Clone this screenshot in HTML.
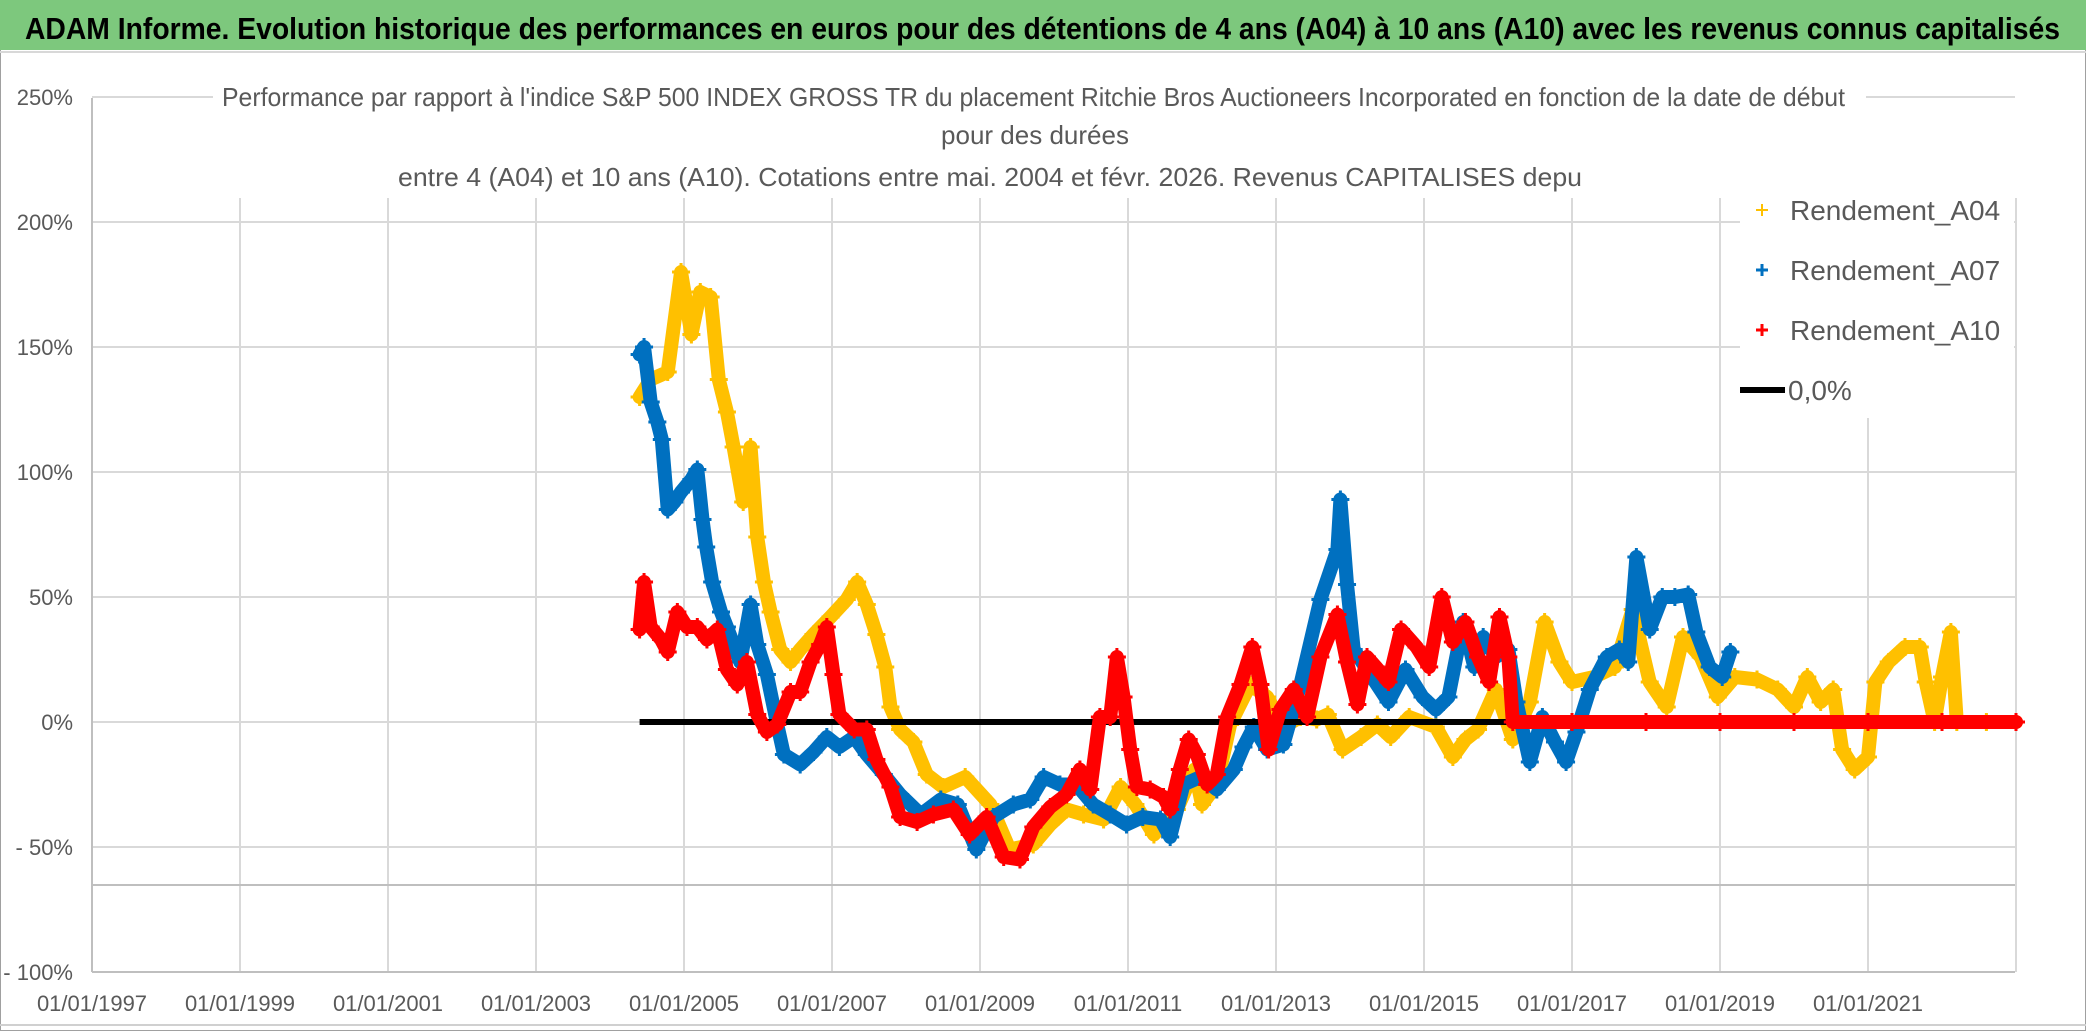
<!DOCTYPE html>
<html><head><meta charset="utf-8"><style>
html,body{margin:0;padding:0;background:#fff;}
svg{display:block;font-family:"Liberation Sans Narrow","Liberation Sans",sans-serif;}
</style></head><body>
<svg id="chart" width="2086" height="1031" viewBox="0 0 2086 1031" xmlns="http://www.w3.org/2000/svg">
<rect x="0" y="0" width="2086" height="1031" fill="#fff"/>
<rect x="0.5" y="0.5" width="2085" height="1030" fill="none" stroke="#a0a0a0" stroke-width="1"/>
<g>
<rect x="0" y="0" width="2086" height="50" fill="#7dc87d"/>
<line x1="0" y1="52" x2="2086" y2="52" stroke="#d8d8d8" stroke-width="2"/>
<text x="25" y="39" font-size="31" font-weight="bold" fill="#000" textLength="2035" lengthAdjust="spacingAndGlyphs">ADAM Informe. Evolution historique des performances en euros pour des détentions de 4 ans (A04) à 10 ans (A10) avec les revenus connus capitalisés</text>
</g>
<g id="grid"></g>
<rect x="213" y="75" width="1653" height="120" fill="#fff"/>
<g fill="#595959" font-size="26">
<text x="222" y="106" textLength="1623" lengthAdjust="spacingAndGlyphs">Performance par rapport à l'indice S&amp;P 500 INDEX GROSS TR  du placement Ritchie Bros Auctioneers Incorporated en fonction de la date de début</text>
<text x="1035" y="144" text-anchor="middle">pour des durées</text>
<text x="398" y="186" textLength="1184" lengthAdjust="spacingAndGlyphs">entre 4 (A04) et 10 ans (A10). Cotations entre mai. 2004 et févr. 2026. Revenus CAPITALISES depu</text>
</g>
<g id="axes"></g>
<g id="series"></g>
<g>
<rect x="1740" y="188" width="274" height="230" fill="#fff"/>
<g>
<path d="M1756 210h12M1762 204v12" stroke="#ffc000" stroke-width="2"/>
<text x="1790" y="220" font-size="28" fill="#595959">Rendement_A04</text></g>
<g>
<path d="M1756 270h12M1762 264v12" stroke="#0070c0" stroke-width="3"/>
<text x="1790" y="280" font-size="28" fill="#595959">Rendement_A07</text></g>
<g>
<path d="M1756 330h12M1762 324v12" stroke="#ff0000" stroke-width="3"/>
<text x="1790" y="340" font-size="28" fill="#595959">Rendement_A10</text></g>
<g>
<line x1="1740" y1="390" x2="1785" y2="390" stroke="#000" stroke-width="6"/>
<text x="1788" y="400" font-size="28" fill="#595959">0,0%</text></g>
</g>
</svg>
<script>
const yTicks = [250,200,150,100,50,0,-50,-100];
const yTickLabels = ["250%","200%","150%","100%","50%","0%","- 50%","- 100%"];
const xTicks = [1997,1999,2001,2003,2005,2007,2009,2011,2013,2015,2017,2019,2021,2023];
const xTickLabels = ["01/01/1997","01/01/1999","01/01/2001","01/01/2003","01/01/2005","01/01/2007","01/01/2009","01/01/2011","01/01/2013","01/01/2015","01/01/2017","01/01/2019","01/01/2021",""];
const a04Years = [2004.4,2004.55,2004.78,2004.96,2005.1,2005.22,2005.36,2005.47,2005.58,2005.67,2005.8,2005.9,2005.99,2006.08,2006.17,2006.3,2006.44,2006.57,2006.75,2006.98,2007.2,2007.34,2007.47,2007.6,2007.72,2007.79,2007.92,2008.1,2008.28,2008.5,2008.8,2009.14,2009.4,2009.72,2009.95,2010.17,2010.4,2010.67,2010.9,2011.1,2011.35,2011.66,2011.9,2012.0,2012.2,2012.38,2012.65,2012.88,2013.1,2013.33,2013.55,2013.7,2013.9,2014.15,2014.37,2014.55,2014.8,2015.16,2015.39,2015.56,2015.73,2015.97,2016.2,2016.43,2016.63,2016.83,2017.0,2017.3,2017.58,2017.82,2018.05,2018.28,2018.5,2018.74,2018.97,2019.2,2019.5,2019.78,2020.0,2020.18,2020.36,2020.53,2020.65,2020.82,2021.0,2021.1,2021.28,2021.5,2021.7,2021.78,2021.9,2022.0,2022.12,2022.2,2022.6,2023.0];
const a04Values = [130,137,140,180,155,172,170,137,124,110,88,110,74,56,44,29,24,29,35,42,49,56,47,35,22,6,-3,-8,-21,-26,-22,-33,-51,-49,-41,-35,-37,-39,-26,-33,-45,-35,-19,-33,-25,-1,15,10,-2,2,1,3,-11,-6,-1,-6,2,-2,-14,-7,-3,13,-7,8,40,24,16,18,22,45,16,6,34,26,10,18,17,13,6,18,8,13,-11,-19,-14,16,24,30,30,16,0,18,36,0,0,0];
const a07Years = [2004.4,2004.46,2004.55,2004.64,2004.7,2004.78,2004.87,2004.96,2005.1,2005.18,2005.25,2005.3,2005.38,2005.5,2005.58,2005.76,2005.9,2005.99,2006.12,2006.26,2006.35,2006.57,2006.75,2006.93,2007.1,2007.3,2007.47,2007.7,2007.92,2008.2,2008.47,2008.7,2008.95,2009.18,2009.45,2009.68,2009.86,2010.08,2010.3,2010.53,2010.76,2010.98,2011.2,2011.44,2011.57,2011.75,2011.98,2012.2,2012.43,2012.56,2012.7,2012.88,2013.1,2013.33,2013.6,2013.83,2013.87,2013.96,2014.05,2014.23,2014.52,2014.75,2014.98,2015.16,2015.33,2015.53,2015.68,2015.8,2015.97,2016.14,2016.25,2016.43,2016.6,2016.77,2016.92,2017.06,2017.24,2017.47,2017.64,2017.76,2017.87,2018.05,2018.22,2018.39,2018.57,2018.68,2018.86,2019.03,2019.14];
const a07Values = [147,150,128,120,113,85,88,92,97,101,81,70,56,44,38,24,47,31,19,-1,-13,-17,-12,-6,-10,-6,-13,-21,-29,-37,-31,-33,-51,-38,-33,-31,-22,-25,-25,-33,-37,-41,-38,-39,-46,-25,-22,-27,-19,-10,-2,-11,-9,15,49,69,89,55,29,21,8,21,10,5,10,40,22,34,26,29,8,-16,2,-8,-16,-4,13,26,29,24,66,37,50,50,51,36,22,18,28];
const a10Years = [2004.4,2004.46,2004.55,2004.69,2004.78,2004.91,2005.04,2005.18,2005.31,2005.45,2005.58,2005.72,2005.85,2005.99,2006.12,2006.26,2006.44,2006.57,2006.71,2006.84,2006.93,2007.02,2007.1,2007.3,2007.47,2007.6,2007.79,2007.92,2008.15,2008.37,2008.64,2008.86,2009.09,2009.32,2009.54,2009.72,2009.95,2010.17,2010.35,2010.49,2010.62,2010.76,2010.85,2010.94,2011.03,2011.12,2011.3,2011.48,2011.57,2011.7,2011.82,2011.93,2012.07,2012.2,2012.34,2012.52,2012.68,2012.79,2012.9,2013.06,2013.24,2013.42,2013.6,2013.83,2013.96,2014.1,2014.23,2014.35,2014.52,2014.69,2014.9,2015.07,2015.24,2015.39,2015.56,2015.73,2015.88,2016.02,2016.14,2016.2,2017.0,2018.0,2019.0,2020.0,2021.0,2022.0,2023.0];
const a10Values = [37,56,38,33,28,44,38,38,33,37,21,15,24,3,-4,-1,12,12,24,31,38,19,3,-3,-3,-15,-26,-38,-40,-37,-35,-45,-38,-54,-55,-42,-34,-29,-19,-27,2,2,26,10,-11,-26,-27,-30,-35,-19,-7,-13,-25,-21,2,15,30,15,-11,5,13,2,26,43,24,7,26,22,16,37,30,22,50,32,40,26,16,42,26,0,0,0,0,0,0,0,0];
const zeroStart = 2004.4, zeroEnd = 2016.2;

const NS = "http://www.w3.org/2000/svg";
const X = yr => 92 + 74 * (yr - 1997);
const Y = v => 722 - 2.5 * v;
function mk(tag, attrs, parent){const e=document.createElementNS(NS,tag);for(const k in attrs)e.setAttribute(k,attrs[k]);parent.appendChild(e);return e;}
const grid=document.getElementById('grid'), axes=document.getElementById('axes'), series=document.getElementById('series');
yTicks.forEach((t,i)=>{
  const l=mk('line',{x1:92,x2:2015,y1:Y(t),y2:Y(t),stroke:'#d9d9d9','stroke-width':2},grid);
  
  
  const tx=mk('text',{x:73,y:Y(t)+8,'text-anchor':'end','font-size':22,fill:'#595959'},axes);
  tx.textContent=yTickLabels[i];
  
  
});
xTicks.forEach((t,i)=>{
  if(i>0){const l=mk('line',{x1:X(t),x2:X(t),y1:198,y2:972,stroke:'#d9d9d9','stroke-width':2},grid);
  
  }
  const tx=mk('text',{x:X(t),y:1011,'text-anchor':'middle','font-size':22,fill:'#595959'},axes);
  tx.textContent=xTickLabels[i];
  
  
});
const extra=mk('line',{x1:92,x2:2015,y1:885,y2:885,stroke:'#bfbfbf','stroke-width':2},grid);


const yax=mk('line',{x1:92,x2:92,y1:98,y2:972,stroke:'#bfbfbf','stroke-width':2},axes);


const xax=mk('line',{x1:92,x2:2015,y1:972,y2:972,stroke:'#bfbfbf','stroke-width':2},axes);


mk('line',{x1:0,x2:2086,y1:1025,y2:1025,stroke:'#d0d0d0','stroke-width':2},axes);

function drawSeries(years, vals, color, name){
  const g=mk('g',{},series);
  
  
  const pts=years.map((y,i)=>X(y)+','+Y(vals[i])).join(' ');
  const pl=mk('polyline',{points:pts,fill:'none',stroke:color,'stroke-width':14,'stroke-linejoin':'round','stroke-linecap':'round'},g);
  
  
  years.forEach((y,i)=>{
    const cx=X(y), cy=Y(vals[i]);
    const p=mk('path',{d:`M${cx-9} ${cy}h18M${cx} ${cy-9}v18`,stroke:color,'stroke-width':3},g);
    
    
  });
}
drawSeries(a04Years,a04Values,'#ffc000','series-a04');
drawSeries(a07Years,a07Values,'#0070c0','series-a07');
const zl=mk('line',{x1:X(zeroStart),x2:X(zeroEnd),y1:Y(0),y2:Y(0),stroke:'#000','stroke-width':6},series);


drawSeries(a10Years,a10Values,'#ff0000','series-a10');
</script>
</body></html>
